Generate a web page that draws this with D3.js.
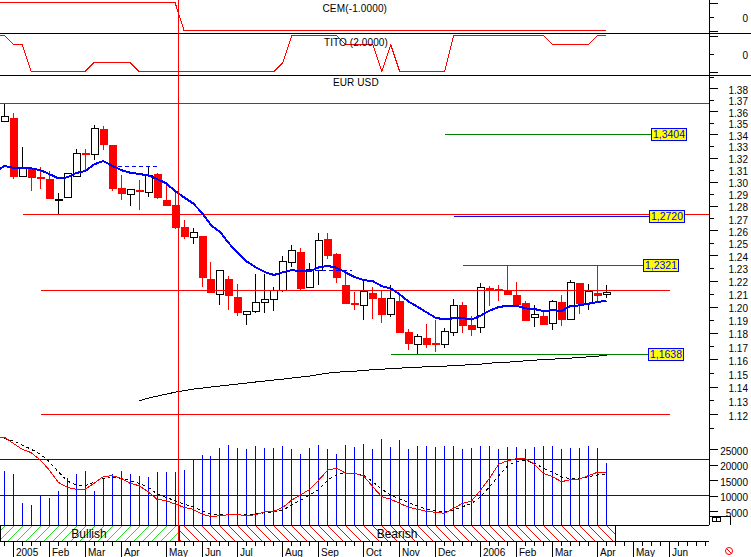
<!DOCTYPE html>
<html><head><meta charset="utf-8">
<script src="https://cdn.jsdelivr.net/npm/d3@7"></script>
<style>
html,body{margin:0;padding:0;background:#fff;overflow:hidden}
svg{display:block;font-family:"Liberation Sans",Arial,sans-serif}
</style></head><body>
<div id="chart"></div>
<script>
// ---- price candles (EUR USD) ----
const openValues = [1.3517,1.3540,1.3040,1.3110,1.3038,1.3021,1.2851,1.2869,1.3040,1.3239,1.3228,1.3445,1.3307,1.2947,1.2894,1.2926,1.2911,1.3060,1.2847,1.2806,1.2626,1.2540,1.2554,1.2213,1.2098,1.2213,1.2073,1.1940,1.1960,1.2029,1.2055,1.2122,1.2342,1.2426,1.2153,1.2282,1.2530,1.2410,1.2166,1.2027,1.2017,1.2104,1.2065,1.1940,1.2042,1.1805,1.1713,1.1760,1.1722,1.1710,1.1803,1.2011,1.1858,1.1841,1.2143,1.2135,1.2125,1.2088,1.2027,1.1914,1.1927,1.1871,1.2035,1.1898,1.2182,1.2025,1.2106,1.2091];
const highValues = [1.3667,1.3581,1.3290,1.3113,1.3124,1.3090,1.2903,1.3074,1.3271,1.3271,1.3480,1.3471,1.3307,1.3054,1.2938,1.3013,1.3119,1.3074,1.2988,1.2916,1.2683,1.2618,1.2554,1.2347,1.2284,1.2237,1.2174,1.1965,1.2252,1.2252,1.2148,1.2395,1.2482,1.2456,1.2337,1.2580,1.2580,1.2416,1.2258,1.2114,1.2205,1.2148,1.2122,1.2166,1.2088,1.1825,1.1790,1.1866,1.1896,1.1833,1.2055,1.2037,1.1926,1.2182,1.2158,1.2166,1.2318,1.2189,1.2042,1.2011,1.1960,1.2050,1.2088,1.2205,1.2182,1.2174,1.2318,1.2166];
const lowValues = [1.3506,1.3024,1.3040,1.2924,1.2938,1.2866,1.2732,1.2866,1.3035,1.3090,1.3180,1.3265,1.2924,1.2847,1.2798,1.2765,1.2874,1.2853,1.2806,1.2608,1.2530,1.2490,1.2150,1.2106,1.2011,1.1973,1.1926,1.1858,1.1950,1.1950,1.1968,1.2114,1.2305,1.2122,1.2153,1.2166,1.2371,1.2179,1.2025,1.1973,1.1896,1.1904,1.1875,1.1922,1.1800,1.1670,1.1640,1.1685,1.1657,1.1683,1.1775,1.1795,1.1775,1.1800,1.2004,1.2045,1.2091,1.1994,1.1888,1.1845,1.1858,1.1820,1.1850,1.1898,1.1942,1.1973,1.2037,1.2063];
const closeValues = [1.3558,1.3046,1.3110,1.3038,1.3030,1.2866,1.2859,1.3069,1.3237,1.3231,1.3451,1.3319,1.2949,1.2908,1.2936,1.2918,1.3054,1.2866,1.2806,1.2629,1.2556,1.2584,1.2229,1.2114,1.2282,1.2088,1.1958,1.1963,1.2032,1.2055,1.2125,1.2353,1.2440,1.2143,1.2290,1.2520,1.2405,1.2231,1.2029,1.2019,1.2122,1.2068,1.1945,1.2063,1.1807,1.1725,1.1773,1.1717,1.1715,1.1810,1.2009,1.1860,1.1830,1.2148,1.2135,1.2127,1.2091,1.2019,1.1898,1.1940,1.1868,1.2040,1.1906,1.2187,1.2029,1.2117,1.2094,1.2109];
// moving averages on price (first maValues entry sits one step before the first candle)
const maValues = [1.3079,1.3130,1.3115,1.3113,1.3110,1.3096,1.3063,1.3027,1.3035,1.3071,1.3088,1.3144,1.3172,1.3132,1.3096,1.3074,1.3063,1.3052,1.3021,1.2986,1.2922,1.2869,1.2820,1.2743,1.2642,1.2588,1.2496,1.2416,1.2350,1.2305,1.2268,1.2245,1.2266,1.2284,1.2274,1.2274,1.2305,1.2316,1.2302,1.2264,1.2229,1.2205,1.2197,1.2158,1.2140,1.2094,1.2037,1.1998,1.1955,1.1914,1.1901,1.1911,1.1911,1.1900,1.1930,1.1969,1.1996,1.2006,1.2006,1.1986,1.1981,1.1965,1.1973,1.1965,1.2004,1.2009,1.2022,1.2035,1.2045];
const longMaStart = 15;
const longMaValues = [1.1298,1.1317,1.1331,1.1346,1.1360,1.1371,1.1382,1.1390,1.1397,1.1404,1.1412,1.1419,1.1426,1.1434,1.1441,1.1448,1.1455,1.1463,1.1470,1.1477,1.1488,1.1499,1.1506,1.1510,1.1514,1.1517,1.1525,1.1528,1.1532,1.1536,1.1540,1.1543,1.1546,1.1548,1.1551,1.1554,1.1558,1.1562,1.1565,1.1573,1.1576,1.1580,1.1585,1.1590,1.1595,1.1599,1.1603,1.1606,1.1610,1.1615,1.1620,1.1625,1.1632];
// indicator panels (first entry sits one step before the first candle)
const cemValues = [1,1,1,1,1,1,1,1,1,1,1,1,1,1,1,1,1,1,1,1,1,-1,-1,-1,-1,-1,-1,-1,-1,-1,-1,-1,-1,-1,-1,-1,-1,-1,-1,-1,-1,-1,-1,-1,-1,-1,-1,-1,-1,-1,-1,-1,-1,-1,-1,-1,-1,-1,-1,-1,-1,-1,-1,-1,-1,-1,-1,-1,-1];
const titoValues = [2,2,1,1,-2,-2,-2,-2,-2,-2,-2,-1,-1,-1,-1,-1,-2,-2,-2,-2,-2,-2,-2,-2,-2,-2,-2,-2,-2,-2,-2,-2,-1,2,2,2,2,2,2,1,1,1,1,-2,1,-2,-2,-2,-2,-2,-2,2,2,2,2,2,2,2,2,2,2,2,1,1,1,1,1,2,2];
// volume panel
const volumeValues = [17900,16950,7600,6900,10200,9200,11450,15650,16950,17900,11450,15650,16950,17900,16950,16300,16000,17600,17600,17600,18200,21800,23100,22700,25300,26300,25300,25000,26000,25300,25300,26000,25000,23400,25300,26300,25000,23400,26300,25600,26600,25000,28200,25600,27900,25000,26000,26000,25600,26000,26000,25000,25300,26000,26000,25000,25600,25600,25000,25600,26000,26000,25000,25300,25300,26000,25300,20500];
const volAvgRed = [28970,28780,26840,24900,23810,21450,18230,14260,12650,12000,12000,13940,16070,16390,15550,13940,13160,11230,8770,8320,7260,6190,5550,4030,3160,3480,3810,3810,3480,3810,4770,4900,6190,8550,10260,12000,15000,18230,18780,17160,17160,16290,12840,9610,8770,7480,6190,5550,4900,4580,4260,5870,7480,8230,11770,15550,20070,21230,21870,21870,20070,17160,16070,14450,15100,15320,16390,17490,17420];
const volAvgBlack = [28390,27580,26290,24900,23390,20900,17680,14680,13390,13160,14260,15420,15870,15550,14780,13940,12650,10480,9420,8320,7260,6390,5000,3940,3710,3810,3810,3810,4030,4450,4680,5320,6940,8550,10160,12000,15000,16840,17160,17160,16520,14450,12000,10160,8870,7680,6610,5550,5100,4770,5320,6390,7480,9610,12840,16290,19520,21030,21230,20390,18780,17490,15970,15420,15420,16070,16610,16940];
const volLevels = [21600,10160];
// labels and levels
const monthIdx = [1,5,9,13,18,22,26,31,35,40,44,48,53,57,61,66,70,74];
const monthLabels = ["2005","Feb","Mar","Apr","May","Jun","Jul","Aug","Sep","Oct","Nov","Dec","2006","Feb","Mar","Apr","May","Jun"];
const priceTicks = [1.39,1.38,1.37,1.36,1.35,1.34,1.33,1.32,1.31,1.30,1.29,1.28,1.27,1.26,1.25,1.24,1.23,1.22,1.21,1.20,1.19,1.18,1.17,1.16,1.15,1.14,1.13,1.12,1.11];
const volumeTicks = [25000,20000,15000,10000,5000];
const redLevels = [{p:1.3668,a:-1,b:79},{p:1.2732,a:2,b:79},{p:1.2125,a:4,b:74},{p:1.12,a:4,b:74}];
const targets = [
 {p:1.3404,a:49,lx:651,label:"1,3404",c:"#008000"},
 {p:1.2720,a:50,lx:649,label:"1,2720",c:"#0000ff"},
 {p:1.2321,a:51,lx:643,label:"1,2321",c:"#008000"},
 {p:1.1638,a:43,lx:648,label:"1,1638",c:"#008000"}];
const dashLevels = [{p:1.3132,a:12.6,b:17},{p:1.2286,a:33,b:38.7}];
const phases = [{name:"Bullish",a:0.5,b:179,fill:"url(#hg)",tx:89},{name:"Bearish",a:179,b:615.5,fill:"url(#hr)",tx:397}];
const splitIdx = 19.42;

const W=751,H=557;
const svg=d3.select("#chart").append("svg").attr("width",W).attr("height",H).attr("viewBox",[0,0,W,H]);
const g=svg.append("g").attr("shape-rendering","crispEdges");
const defs=svg.append("defs");
const hatch=(id,col,d)=>{const p=defs.append("pattern").attr("id",id).attr("patternUnits","userSpaceOnUse").attr("width",9).attr("height",9);
 p.append("path").attr("d",d).attr("stroke",col).attr("stroke-width",1).attr("fill","none").attr("shape-rendering","auto");};
hatch("hg","#22dd22","M-1,1L1,-1M0,9L9,0M8,10L10,8");
hatch("hr","#ff0000","M-1,8L1,10M0,0L9,9M8,-1L10,1");

const x=d3.scaleLinear().domain([0,74]).range([4.3,669.3]);
const px=i=>Math.floor(x(i))+0.5;
const y=d3.scaleLog().domain([1.38,1.12]).range([88.3,414.3]);
const py=v=>Math.round(y(v))+0.5;
const yCem=d3.scaleLinear().domain([1,-1]).range([2.5,30.5]);
const yTito=d3.scaleLinear().domain([2,-2]).range([35.5,71.5]);
const yVol=d3.scaleLinear().domain([0,25000]).range([526.5,449]);
const RED="#ff0000",BLUE="#0000ff";
const hline=(yy,x1,x2,c,w=1)=>g.append("line").attr("x1",x1).attr("x2",x2).attr("y1",yy).attr("y2",yy).attr("stroke",c).attr("stroke-width",w);
const idx=d3.range(openValues.length);

// candles
const cand=g.append("g");
cand.selectAll("line.w").data(idx).join("line").attr("class","w")
 .attr("x1",px).attr("x2",px).attr("y1",i=>y(highValues[i])).attr("y2",i=>y(lowValues[i]))
 .attr("stroke",i=>closeValues[i]<openValues[i]?RED:"#000");
cand.selectAll("rect").data(idx).join("rect")
 .attr("x",i=>px(i)-3.5).attr("width",7)
 .attr("y",i=>Math.round(y(Math.max(openValues[i],closeValues[i])))+0.5)
 .attr("height",i=>Math.max(1,Math.round(y(Math.min(openValues[i],closeValues[i]))-y(Math.max(openValues[i],closeValues[i])))))
 .attr("fill",i=>closeValues[i]<openValues[i]?RED:"#fff")
 .attr("stroke",i=>closeValues[i]<openValues[i]?RED:"#000");

// volume
g.append("g").selectAll("line").data(idx).join("line")
 .attr("x1",px).attr("x2",px).attr("y1",525).attr("y2",i=>yVol(volumeValues[i])).attr("stroke",BLUE).attr("stroke-width",1);
volLevels.forEach(v=>hline(Math.floor(yVol(v))+0.5,0,709,BLUE));

// horizontal levels
redLevels.forEach(l=>hline(py(l.p),l.a<0?0:px(l.a),l.b>=79?709:px(l.b),RED));
targets.forEach(t=>hline(py(t.p),px(t.a),t.lx,t.c));
dashLevels.forEach(l=>hline(py(l.p),x(l.a),x(l.b),BLUE).attr("stroke-dasharray","4,3"));

// moving averages
g.append("path").attr("fill","none").attr("stroke","#000").attr("stroke-width",1)
 .attr("d",d3.line().x((d,k)=>px(k+longMaStart)).y(d=>y(d))(longMaValues));
g.append("path").attr("fill","none").attr("stroke",BLUE).attr("stroke-width",2)
 .attr("d",d3.line().x((d,k)=>x(k-1)).y(d=>y(d))(maValues));

// indicators
g.append("path").attr("fill","none").attr("stroke",RED).attr("d",d3.line().x((d,k)=>x(k-1)).y(d=>yCem(d))(cemValues));
g.append("path").attr("fill","none").attr("stroke",RED).attr("d",d3.line().x((d,k)=>x(k-1)).y(d=>yTito(d))(titoValues));
g.append("path").attr("fill","none").attr("stroke","#000").attr("stroke-dasharray","3,3").attr("d",d3.line().x((d,k)=>x(k)).y(d=>yVol(d))(volAvgBlack));
g.append("path").attr("fill","none").attr("stroke",RED).attr("d",d3.line().x((d,k)=>x(k-1)).y(d=>yVol(d))(volAvgRed));

// panel separators
hline(33.5,0,W,"#000");
hline(75.5,0,W,"#000");

// phase band
g.selectAll("rect.ph").data(phases).join("rect").attr("class","ph")
 .attr("x",d=>d.a).attr("y",525.5).attr("width",d=>d.b-d.a).attr("height",16)
 .attr("fill",d=>d.fill).attr("stroke","#000");
hline(525.5,615,709,"#000");
hline(541.5,0,709,"#000");
g.append("line").attr("x1",x(splitIdx)).attr("x2",x(splitIdx)).attr("y1",0).attr("y2",541).attr("stroke",RED);

// target labels
const tl=svg.append("g").selectAll("g").data(targets).join("g").attr("transform",t=>`translate(${t.lx},${py(t.p)})`);
tl.append("rect").attr("x",0.5).attr("y",-6).attr("width",35).attr("height",11.5).attr("fill","#ffff00").attr("stroke",BLUE).attr("shape-rendering","crispEdges");
tl.append("text").attr("x",18).attr("y",3.5).attr("text-anchor","middle").attr("font-size",10.5).attr("fill",BLUE).text(t=>t.label);

// titles and band labels
const label=(s,xx,yy,size=10,anchor="start",sp=0)=>svg.append("text").attr("x",xx).attr("y",yy).attr("font-size",size).attr("text-anchor",anchor).attr("letter-spacing",sp).attr("fill","#000").text(s);
label("CEM(-1.0000)",322.5,12,10,"start",0.15);
label("TITO (2.0000)",324,46,10,"start",0.1);
label("EUR USD",333,86,10,"start",0.1);
phases.forEach(p=>label(p.name,p.tx,538,12,"middle"));

// right axes
const styleAxis=sel=>{
 sel.attr("font-family",null).attr("font-size",10);
 sel.selectAll(".domain").remove();
 sel.selectAll(".tick line").attr("stroke","#000");
 sel.selectAll(".tick text").attr("text-anchor","end").attr("x",38.5).attr("dy","0.5em").attr("fill","#000");
};
const axP=svg.append("g").attr("transform","translate(709.5,0)").attr("shape-rendering","crispEdges")
 .call(d3.axisRight(y).tickValues(priceTicks).tickSize(8).tickFormat(d=>(d>1.385||d<1.115)?"":d3.format(".2f")(d)));
styleAxis(axP);
axP.selectAll(".tick line").attr("x2",(d,i)=>i%2===1?8:4);
const axV=svg.append("g").attr("transform","translate(709.5,0)").attr("shape-rendering","crispEdges")
 .call(d3.axisRight(yVol).tickValues(volumeTicks).tickSize(8).tickFormat(d3.format("d")));
styleAxis(axV);
const axC=svg.append("g").attr("transform","translate(709.5,0)").attr("shape-rendering","crispEdges")
 .call(d3.axisRight(yCem).tickValues([1,0,-1]).tickSize(8).tickFormat(d=>d===0?"0":""));
styleAxis(axC);
axC.selectAll(".tick line").attr("x2",d=>d===0?4:8);
const axT=svg.append("g").attr("transform","translate(709.5,0)").attr("shape-rendering","crispEdges")
 .call(d3.axisRight(yTito).tickValues([2,0,-2]).tickSize(8).tickFormat(d=>d===0?"0":""));
styleAxis(axT);
axT.selectAll(".tick line").attr("x2",d=>d===0?4:8);
g.append("line").attr("x1",709.5).attr("x2",709.5).attr("y1",0).attr("y2",525).attr("stroke","#000").attr("stroke-width",1);

// time axis
const allTicks=d3.range(0,79);
const axB=svg.append("g").attr("transform","translate(0,541.5)").attr("shape-rendering","crispEdges")
 .call(d3.axisBottom(x).tickValues(allTicks).tickSize(4).tickFormat(""));
axB.selectAll(".domain").remove();
axB.selectAll(".tick").attr("transform",d=>`translate(${px(d)},0)`);
axB.selectAll(".tick line").attr("stroke","#000").attr("x1",0).attr("x2",0).attr("y2",d=>monthIdx.includes(d)?16:4);
monthIdx.forEach((m,k)=>label(monthLabels[k],px(m)+2.5,556,10));

// corner glyphs
const corner=svg.append("g").attr("shape-rendering","crispEdges").attr("fill","none").attr("stroke","#000");
corner.append("path").attr("d","M709.5,516.5H730.5V525");
corner.append("rect").attr("x",712.5).attr("y",517.5).attr("width",4).attr("height",4);
corner.append("rect").attr("x",716.5).attr("y",517.5).attr("width",4).attr("height",4);
const stop=svg.append("g").attr("fill","none").attr("stroke",RED).attr("stroke-width",1);
stop.append("circle").attr("cx",729).attr("cy",551).attr("r",3.5);
stop.append("path").attr("d","M726.5,548.5L731.5,553.5");
</script>
</body></html>
